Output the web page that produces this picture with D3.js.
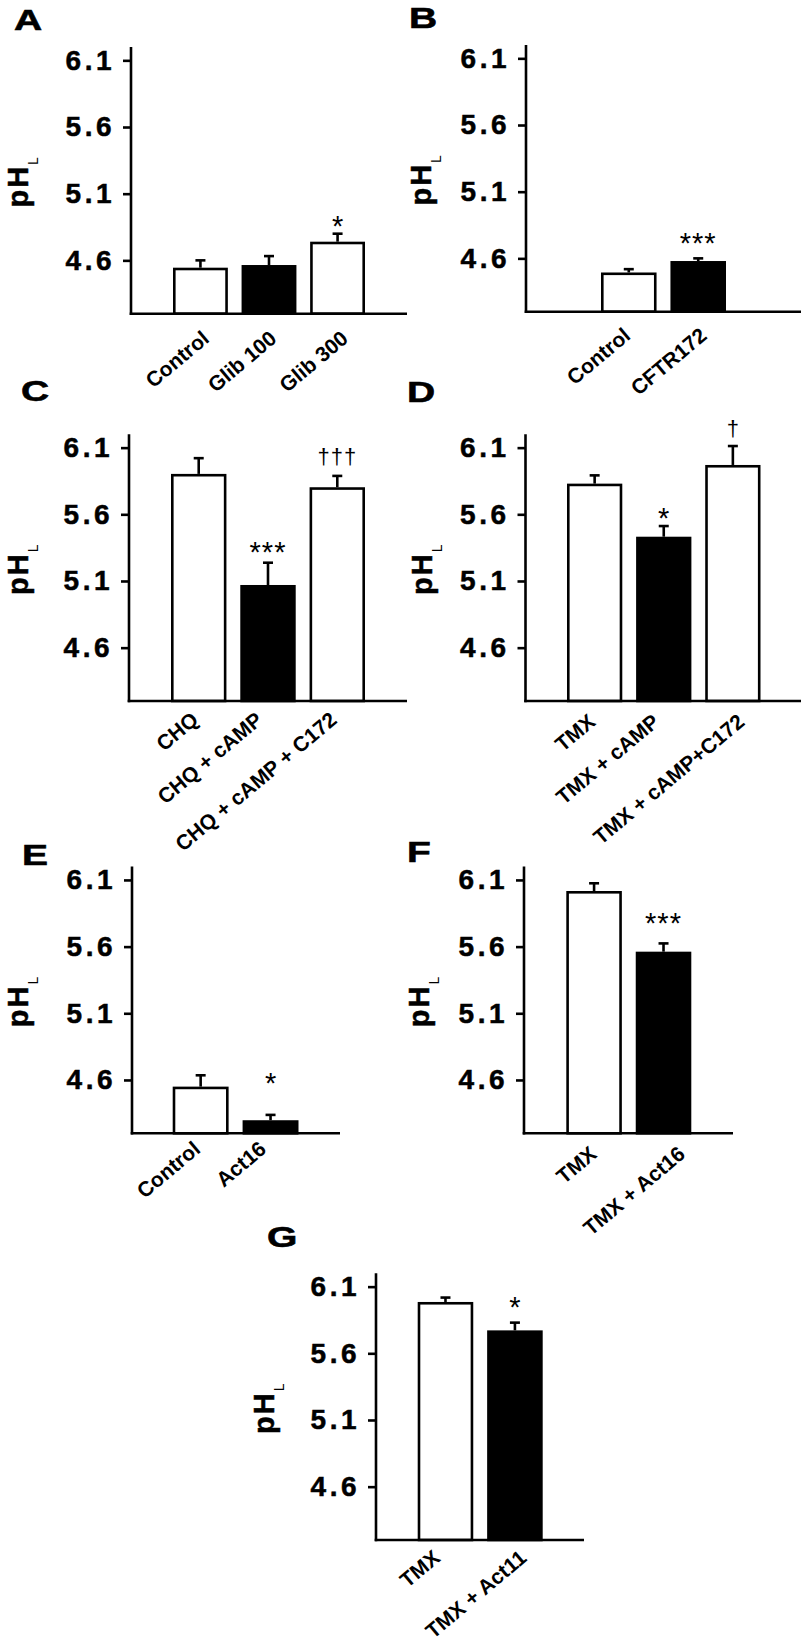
<!DOCTYPE html>
<html>
<head>
<meta charset="utf-8">
<script src="https://cdn.jsdelivr.net/npm/d3@7"></script>
<style>
  body { margin: 0; background: #fff; }
  svg { display: block; font-family: "Liberation Sans", Arial, sans-serif; }
</style>
</head>
<body>
<svg id="fig" width="806" height="1641"></svg>
<script>
// values (lysosomal pH, mean + SEM)
const yTicks = [4.6, 5.1, 5.6, 6.1];
const yDomain = [4.2, 6.2];

const labelsA = ["Control", "Glib 100", "Glib 300"];
const meanA = [4.545, 4.565, 4.74];
const semA = [0.055, 0.067, 0.06];
const groupA = ["ctrl", "drug", "ctrl"];
const sigA = ["", "", "*"];
const sigAtA = [null, null, 4.785];

const labelsB = ["Control", "CFTR172"];
const meanB = [4.494, 4.58];
const semB = [0.025, 0.02];
const groupB = ["ctrl", "drug"];
const sigB = ["", "***"];
const sigAtB = [null, 4.64];

const labelsC = ["CHQ", "CHQ + cAMP", "CHQ + cAMP + C172"];
const meanC = [5.903, 5.07, 5.803];
const semC = [0.118, 0.167, 0.085];
const groupC = ["ctrl", "drug", "ctrl"];
const sigC = ["", "***", "†††"];
const sigAtC = [null, 5.245, 5.975];

const labelsD = ["TMX", "TMX + cAMP", "TMX + cAMP+C172"];
const meanD = [5.83, 5.432, 5.97];
const semD = [0.062, 0.08, 0.142];
const groupD = ["ctrl", "drug", "ctrl"];
const sigD = ["", "*", "†"];
const sigAtD = [null, 5.498, 6.188];

const labelsE = ["Control", "Act16"];
const meanE = [4.55, 4.298];
const semE = [0.085, 0.04];
const groupE = ["ctrl", "drug"];
const sigE = ["", "*"];
const sigAtE = [null, 4.502];

const labelsF = ["TMX", "TMX + Act16"];
const meanF = [6.017, 5.562];
const semF = [0.058, 0.062];
const groupF = ["ctrl", "drug"];
const sigF = ["", "***"];
const sigAtF = [null, 5.705];

const labelsG = ["TMX", "TMX + Act11"];
const meanG = [5.985, 5.772];
const semG = [0.033, 0.058];
const groupG = ["ctrl", "drug"];
const sigG = ["", "*"];
const sigAtG = [null, 5.875];

// panel placement on the page (tdx: per-label nudge of the rotated labels)
const H = 266.7;
const layout = {
  A: { ax: 131, top: 47,      xEnd: 407, bars: [173, 365],     labX: 28,  letter: [14, 30],    tdx: [10, 9, 12],  tdy: 27 },
  B: { ax: 526, top: 45,      xEnd: 801, bars: [601, 726],     labX: 431, letter: [409, 28],   tdx: [3, 10],      tdy: 26 },
  C: { ax: 129, top: 434.3,   xEnd: 407, bars: [171, 365],     labX: 28,  letter: [21, 401],   tdx: [1, -4, 1],   tdy: 21 },
  D: { ax: 525.5, top: 434.3, xEnd: 801, bars: [567, 760.5],   labX: 432, letter: [407, 402],  tdx: [2, -3, 13],  tdy: 23 },
  E: { ax: 132, top: 866.6,   xEnd: 340, bars: [172.7, 298.5], labX: 28,  letter: [22, 865],   tdx: [1, -3],      tdy: 18 },
  F: { ax: 524, top: 866.6,   xEnd: 733, bars: [566.3, 691.3], labX: 429, letter: [407, 862],  tdx: [4, 23],      tdy: 23 },
  G: { ax: 376, top: 1273.3,  xEnd: 584, bars: [417.7, 542.7], labX: 274, letter: [267, 1247], tdx: [-4, 13],     tdy: 20 }
};

const svg = d3.select("#fig");
svg.append("rect").attr("width", 806).attr("height", 1641).attr("fill", "#fff");

const fillOf = d3.scaleOrdinal().domain(["ctrl", "drug"]).range(["#fff", "#000"]);
const sw = 2.6;

function panel(id, labels, mean, sem, group, sig, sigAt) {
  const L = layout[id];
  const y = d3.scaleLinear().domain(yDomain).range([L.top + H, L.top]);
  const x = d3.scaleBand().domain(labels).range(L.bars).paddingInner(0.2).paddingOuter(0);
  const base = y(yDomain[0]);
  const g = svg.append("g");

  const rows = labels.map((d, i) => ({ label: d, mean: mean[i], sem: sem[i], group: group[i], sig: sig[i], sigAt: sigAt[i] }));

  // bars
  g.selectAll("rect.bar")
    .data(rows)
    .join("rect")
    .attr("class", "bar")
    .attr("x", d => x(d.label) + sw / 2)
    .attr("width", x.bandwidth() - sw)
    .attr("y", d => y(d.mean) + sw / 2)
    .attr("height", d => base - y(d.mean) - sw / 2)
    .attr("fill", d => fillOf(d.group))
    .attr("stroke", "#000")
    .attr("stroke-width", sw);

  // error bars (upper only)
  const cx = d => x(d.label) + x.bandwidth() / 2;
  g.selectAll("line.err")
    .data(rows)
    .join("line")
    .attr("class", "err")
    .attr("x1", cx).attr("x2", cx)
    .attr("y1", d => y(d.mean))
    .attr("y2", d => y(d.mean + d.sem))
    .attr("stroke", "#000").attr("stroke-width", sw);
  g.selectAll("line.cap")
    .data(rows)
    .join("line")
    .attr("class", "cap")
    .attr("x1", d => cx(d) - 5).attr("x2", d => cx(d) + 5)
    .attr("y1", d => y(d.mean + d.sem))
    .attr("y2", d => y(d.mean + d.sem))
    .attr("stroke", "#000").attr("stroke-width", sw);

  // significance marks
  g.selectAll("text.sig")
    .data(rows.filter(d => d.sig))
    .join("text")
    .attr("class", "sig")
    .attr("x", cx)
    .attr("y", d => y(d.sigAt))
    .attr("text-anchor", "middle")
    .style("font-size", d => d.sig[0] === "*" ? "29px" : "22px")
    .style("letter-spacing", d => d.sig.length > 1 ? "1px" : null)
    .text(d => d.sig);

  // y axis
  const ya = g.append("g")
    .attr("transform", `translate(${L.ax},0)`)
    .call(d3.axisLeft(y).tickValues(yTicks).tickFormat(d3.format(".1f")).tickSize(8).tickPadding(8));
  ya.select(".domain").remove();
  ya.selectAll(".tick line").attr("stroke", "#000").attr("stroke-width", sw);
  ya.selectAll(".tick text")
    .attr("fill", "#000")
    .attr("stroke", "#000").attr("stroke-width", 0.5)
    .style("font-size", "28px")
    .style("font-weight", "bold")
    .style("letter-spacing", "3.5px");
  g.append("line")
    .attr("x1", L.ax).attr("x2", L.ax)
    .attr("y1", L.top).attr("y2", base + sw / 2)
    .attr("stroke", "#000").attr("stroke-width", sw);

  // x axis
  g.append("line")
    .attr("x1", L.ax - sw / 2).attr("x2", L.xEnd)
    .attr("y1", base).attr("y2", base)
    .attr("stroke", "#000").attr("stroke-width", sw);
  const xa = g.append("g")
    .attr("transform", `translate(0,${base})`)
    .call(d3.axisBottom(x).tickSize(0));
  xa.select(".domain").remove();
  xa.selectAll(".tick text")
    .attr("x", 0).attr("y", 0).attr("dy", null)
    .attr("text-anchor", "end")
    .attr("transform", (d, i) => `translate(${L.tdx[i]},${L.tdy}) rotate(-40)`)
    .attr("fill", "#000")
    .style("font-size", "21px")
    .style("font-weight", "bold");

  // y label pH_L
  const yl = g.append("text")
    .attr("transform", `translate(${L.labX},${L.top + H / 2 + 2}) rotate(-90)`)
    .attr("text-anchor", "middle");
  yl.append("tspan")
    .attr("stroke", "#000").attr("stroke-width", 0.5)
    .style("font-size", "29px").style("font-weight", "bold").style("letter-spacing", "2px")
    .text("pH");
  yl.append("tspan").attr("dy", 10).style("font-size", "14px").text("L");

  // panel letter (the original letters are drawn wide)
  svg.append("text")
    .attr("transform", `translate(${L.letter[0]},${L.letter[1]}) scale(1.3,1)`)
    .attr("stroke", "#000").attr("stroke-width", 0.6)
    .style("font-size", "30px").style("font-weight", "bold")
    .text(id);
}

panel("A", labelsA, meanA, semA, groupA, sigA, sigAtA);
panel("B", labelsB, meanB, semB, groupB, sigB, sigAtB);
panel("C", labelsC, meanC, semC, groupC, sigC, sigAtC);
panel("D", labelsD, meanD, semD, groupD, sigD, sigAtD);
panel("E", labelsE, meanE, semE, groupE, sigE, sigAtE);
panel("F", labelsF, meanF, semF, groupF, sigF, sigAtF);
panel("G", labelsG, meanG, semG, groupG, sigG, sigAtG);
</script>
</body>
</html>
